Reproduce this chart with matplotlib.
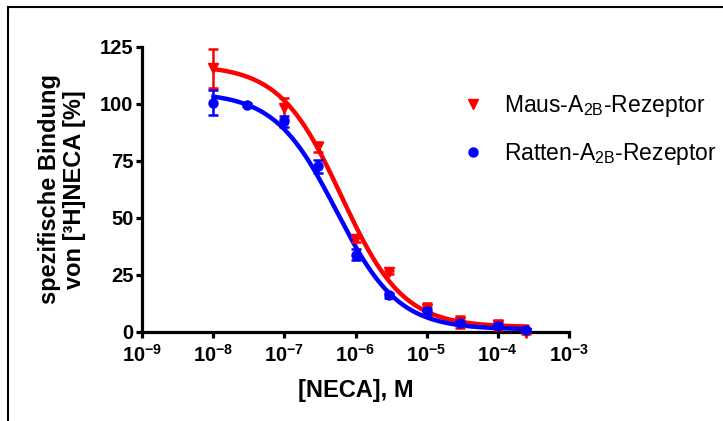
import numpy as np
import matplotlib
matplotlib.use("Agg")
import matplotlib.pyplot as plt
from matplotlib.lines import Line2D
from matplotlib.ticker import FixedLocator, FixedFormatter, NullLocator

# ---- data ----
conc_maus = [1e-8, 1e-7, 3e-7, 1e-6, 3e-6, 1e-5, 3e-5, 1e-4, 2.5e-4]
bind_maus = [115.5, 98.0, 81.0, 40.5, 26.0, 10.0, 4.2, 3.0, -0.5]
err_maus = [8.5, 4.5, 2.0, 1.0, 0.8, 2.5, 2.5, 2.2, 0.5]

conc_ratte = [1e-8, 3e-8, 1e-7, 3e-7, 1e-6, 3e-6, 1e-5, 3e-5, 1e-4, 2.5e-4]
bind_ratte = [100.5, 99.6, 92.2, 72.5, 33.8, 16.0, 8.9, 3.8, 2.6, 0.6]
err_ratte = [5.5, 0.5, 2.5, 2.8, 2.5, 1.0, 1.5, 1.0, 1.0, 0.5]

# fitted sigmoid parameters (top, bottom, logIC50, hill)
fit_maus = dict(top=117.0, bottom=2.0, logic50=-6.20, hill=1.0)
fit_ratte = dict(top=105.0, bottom=1.0, logic50=-6.27, hill=1.0)
fit_range = (1e-8, 2.6e-4)

xticks = [1e-9, 1e-8, 1e-7, 1e-6, 1e-5, 1e-4, 1e-3]
xticklabels = [r'$\mathbf{10^{-9}}$', r'$\mathbf{10^{-8}}$', r'$\mathbf{10^{-7}}$',
               r'$\mathbf{10^{-6}}$', r'$\mathbf{10^{-5}}$', r'$\mathbf{10^{-4}}$',
               r'$\mathbf{10^{-3}}$']
yticks = [0, 25, 50, 75, 100, 125]

label_maus = r'Maus-A$_{\mathrm{2B}}$-Rezeptor'
label_ratte = r'Ratten-A$_{\mathrm{2B}}$-Rezeptor'
xlabel = '[NECA], M'
ylabel = 'spezifische Bindung\nvon [³H]NECA [%]'

RED = '#ff0000'
BLUE = '#0000ff'

plt.rcParams['font.family'] = ['Liberation Sans', 'DejaVu Sans']
plt.rcParams['mathtext.fontset'] = 'custom'
plt.rcParams['mathtext.rm'] = 'Liberation Sans'
plt.rcParams['mathtext.it'] = 'Liberation Sans:italic'
plt.rcParams['mathtext.bf'] = 'Liberation Sans:bold'


def sigmoid(x, p):
    return p['bottom'] + (p['top'] - p['bottom']) / (1 + 10 ** ((np.log10(x) - p['logic50']) * p['hill']))


fig = plt.figure(figsize=(7.23, 4.21), dpi=100)
ax = fig.add_axes([142.4 / 723, 1 - 331.7 / 421, (568.7 - 142.4) / 723, (331.7 - 46.7) / 421])

xs = np.logspace(np.log10(fit_range[0]), np.log10(fit_range[1]), 400)
ax.plot(xs, sigmoid(xs, fit_maus), color=RED, lw=3.2, zorder=3, clip_on=False)
ax.plot(xs, sigmoid(xs, fit_ratte), color=BLUE, lw=3.2, zorder=3, clip_on=False)

e1 = ax.errorbar(conc_maus, bind_maus, yerr=err_maus, fmt='v', color=RED, ms=7.5,
                 elinewidth=1.8, capsize=3.5, capthick=1.8, zorder=4, clip_on=False)
e2 = ax.errorbar(conc_ratte, bind_ratte, yerr=err_ratte, fmt='o', color=BLUE, ms=6.5,
                 elinewidth=1.8, capsize=3.5, capthick=1.8, zorder=5, clip_on=False)
for e in (e1, e2):
    for art in e.get_children():
        art.set_clip_on(False)

ax.set_xscale('log')
ax.set_xlim(1e-9, 1e-3)
ax.set_ylim(0, 125)
ax.xaxis.set_major_locator(FixedLocator(xticks))
ax.xaxis.set_major_formatter(FixedFormatter(xticklabels))
ax.xaxis.set_minor_locator(NullLocator())
ax.set_yticks(yticks)
ax.set_yticklabels([str(v) for v in yticks])

for s in ('top', 'right'):
    ax.spines[s].set_visible(False)
for s in ('left', 'bottom'):
    ax.spines[s].set_linewidth(2.3)
    ax.spines[s].set_capstyle('projecting')
ax.tick_params(axis='both', direction='out', length=4.5, width=2.3, labelsize=14.5, pad=2)
ax.tick_params(axis='x', pad=4)
for lab in ax.get_yticklabels():
    lab.set_fontweight('bold')

ax.set_xlabel(xlabel, fontsize=17, fontweight='bold', labelpad=10)
ax.set_ylabel(ylabel, fontsize=17, fontweight='bold', labelpad=10, linespacing=1.1)

handles = [Line2D([], [], ls='none', marker='v', color=RED, ms=7.5),
           Line2D([], [], ls='none', marker='o', color=BLUE, ms=6.5)]
ax.legend(handles, [label_maus, label_ratte], loc='upper left',
          bbox_to_anchor=(462 / 723, 1 - 93 / 421), bbox_transform=fig.transFigure,
          frameon=False, fontsize=16.5, handlelength=1.0, handletextpad=0.85,
          labelspacing=0.95, borderpad=0, borderaxespad=0)

# outer frame (left and top lines)
fig.add_artist(Line2D([7.7 / 723, 7.7 / 723], [0, 1 - 6.7 / 421], color='black', lw=1.5,
                      transform=fig.transFigure, solid_capstyle='projecting'))
fig.add_artist(Line2D([7.7 / 723, 1], [1 - 6.7 / 421, 1 - 6.7 / 421], color='black', lw=1.5,
                      transform=fig.transFigure, solid_capstyle='projecting'))

fig.savefig('out.png', dpi=100)
